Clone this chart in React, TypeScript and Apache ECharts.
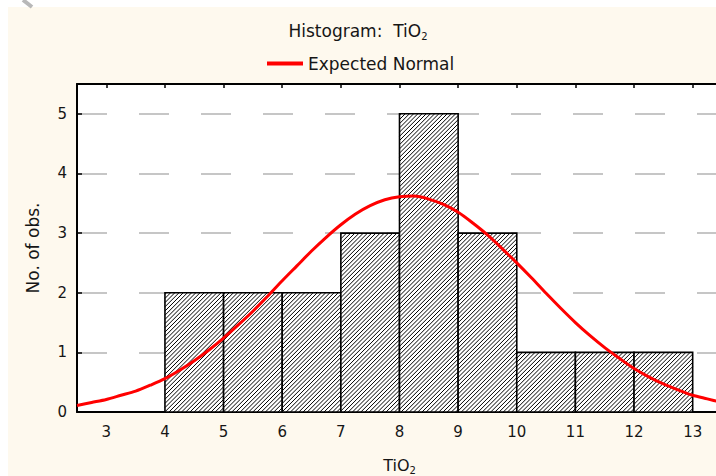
import React, { useEffect, useRef } from "react";
import * as echarts from "echarts";

// Histogram bins (TiO2) and observed counts
const binStart = [4, 5, 6, 7, 8, 9, 10, 11, 12];
const binEnd = [5, 6, 7, 8, 9, 10, 11, 12, 13];
const counts = [2, 2, 2, 3, 5, 3, 1, 1, 1];

// Expected normal curve
const curveX = [
  2.5, 2.75, 3, 3.25, 3.5, 3.75, 4, 4.25, 4.5, 4.75, 5, 5.25, 5.5, 5.75, 6, 6.25, 6.5, 6.75, 7, 7.25, 7.5, 7.75,
  8, 8.25, 8.5, 8.75, 9, 9.25, 9.5, 9.75, 10, 10.25, 10.5, 10.75, 11, 11.25, 11.5, 11.75, 12, 12.25, 12.5, 12.75,
  13, 13.25, 13.5,
];
const curveY = [
  0.11, 0.16, 0.21, 0.28, 0.35, 0.45, 0.56, 0.7, 0.86, 1.04, 1.24, 1.46, 1.69, 1.94, 2.2, 2.45, 2.7, 2.93, 3.14,
  3.32, 3.46, 3.56, 3.61, 3.62, 3.57, 3.48, 3.35, 3.17, 2.97, 2.74, 2.5, 2.25, 1.99, 1.74, 1.5, 1.28, 1.08, 0.9,
  0.73, 0.59, 0.47, 0.37, 0.28, 0.22, 0.16,
];

// Tick labels
const xTicks = [3, 4, 5, 6, 7, 8, 9, 10, 11, 12, 13];
const yTicks = [0, 1, 2, 3, 4, 5];

const FONT = "DejaVu Sans";
const TXT = "#161616";

export default function App() {
  const ref = useRef<HTMLDivElement>(null);
  useEffect(() => {
    if (!ref.current) return;
    const chart = echarts.init(ref.current, undefined, { renderer: "svg" });
    const histData = binStart.map((s, i) => [s, binEnd[i], counts[i]]);
    const curveData = curveX.map((x, i) => [x, curveY[i]]);

    const renderItem = (params: any, api: any) => {
      const x0 = api.value(0);
      const x1 = api.value(1);
      const h = api.value(2);
      const tl = api.coord([x0, h]);
      const br = api.coord([x1, 0]);
      const L = tl[0], T = tl[1], R = br[0], B = br[1];
      const children: any[] = [
        {
          type: "rect",
          shape: { x: L, y: T, width: R - L, height: B - T },
          style: { fill: "#fff", stroke: "none" },
        },
      ];
      const step = 4.2;
      for (let c = L + T + 1.5; c < R + B; c += step) {
        const xa = Math.max(L, c - B);
        const xb = Math.min(R, c - T);
        if (xb <= xa) continue;
        children.push({
          type: "line",
          shape: { x1: xa, y1: c - xa, x2: xb, y2: c - xb },
          style: { stroke: "#000", lineWidth: 1 },
        });
      }
      children.push({
        type: "rect",
        shape: { x: L, y: T, width: R - L, height: B - T },
        style: { fill: "none", stroke: "#000", lineWidth: 1.6 },
      });
      return { type: "group", children };
    };

    const subRich = (size: number) => ({
      a: { fontFamily: FONT, fontSize: size, fontWeight: "normal", color: TXT, lineHeight: 20 },
      s: {
        fontFamily: FONT,
        fontSize: 10,
        fontWeight: "normal",
        color: TXT,
        lineHeight: 12,
        verticalAlign: "bottom",
        padding: [6, 0, 0, 0],
      },
    });

    chart.setOption({
      animation: false,
      backgroundColor: "#fef9ee",
      title: {
        text: "{a|Histogram:  TiO}{s|2}",
        left: "center",
        top: 16,
        textStyle: { fontWeight: "normal", rich: subRich(17) },
      },
      legend: {
        data: ["Expected Normal"],
        left: 262,
        top: 50,
        icon: "rect",
        itemWidth: 36,
        itemHeight: 4,
        itemGap: 8,
        textStyle: { fontFamily: FONT, fontSize: 17, color: TXT },
      },
      graphic: [
        { type: "rect", shape: { x: 0, y: 0, width: 716, height: 7 }, style: { fill: "#ffffff" } },
        { type: "rect", shape: { x: 0, y: 0, width: 8, height: 476 }, style: { fill: "#ffffff" } },
        { type: "line", shape: { x1: 23, y1: 0, x2: 32, y2: 7 }, style: { stroke: "#b8b8b8", lineWidth: 4 } },
      ],
      grid: {
        left: 77,
        top: 84,
        right: -6,
        bottom: 64,
        show: true,
        backgroundColor: "#ffffff",
        borderWidth: 0,
        outerBoundsMode: "none",
      },
      xAxis: [
        {
          type: "value",
          min: 2.5,
          max: 13.5,
          position: "bottom",
          axisLine: { show: true, onZero: false, lineStyle: { color: "#000", width: 2 } },
          axisTick: { show: false },
          axisLabel: {
            customValues: xTicks,
            margin: 12,
            fontFamily: FONT,
            fontSize: 15,
            color: TXT,
          },
          splitLine: { show: false },
          name: "{a|TiO}{s|2}",
          nameLocation: "middle",
          nameGap: 43,
          nameTextStyle: { rich: subRich(16) },
        },
        {
          type: "value",
          min: 2.5,
          max: 13.5,
          position: "top",
          axisLine: { show: true, onZero: false, lineStyle: { color: "#000", width: 2 } },
          axisTick: { show: true, inside: true, length: 4, customValues: xTicks, lineStyle: { color: "#000", width: 1.5 } },
          axisLabel: { show: false },
          splitLine: { show: false },
        },
      ],
      yAxis: [
        {
          type: "value",
          min: 0,
          max: 5.5,
          interval: 1,
          position: "left",
          axisLine: { show: true, onZero: false, lineStyle: { color: "#000", width: 2 } },
          axisTick: { show: true, inside: true, length: 5, customValues: yTicks, lineStyle: { color: "#000", width: 1.5 } },
          axisLabel: { customValues: yTicks, margin: 10, fontFamily: FONT, fontSize: 15, color: TXT },
          splitLine: { show: true, lineStyle: { type: [30, 32], color: "#c6c6c6", width: 2 } },
          name: "No. of obs.",
          nameLocation: "middle",
          nameGap: 36,
          nameTextStyle: { fontFamily: FONT, fontSize: 17, color: TXT },
        },
        {
          type: "value",
          min: 0,
          max: 5.5,
          position: "right",
          axisLine: { show: true, onZero: false, lineStyle: { color: "#000", width: 2 } },
          axisTick: { show: false },
          axisLabel: { show: false },
          splitLine: { show: false },
        },
      ],
      series: [
        {
          type: "custom",
          name: "Histogram",
          xAxisIndex: 0,
          yAxisIndex: 0,
          renderItem,
          encode: { x: [0, 1], y: 2 },
          data: histData,
          z: 2,
        },
        {
          type: "line",
          name: "Expected Normal",
          xAxisIndex: 0,
          yAxisIndex: 0,
          data: curveData,
          smooth: 0.3,
          showSymbol: false,
          lineStyle: { color: "#ff0000", width: 3 },
          itemStyle: { color: "#ff0000" },
          z: 5,
        },
      ],
    });
    return () => chart.dispose();
  }, []);
  return (
    <div
      ref={ref}
      style={{ position: "fixed", left: 0, top: 0, width: 716, height: 476, background: "#fff" }}
    />
  );
}
